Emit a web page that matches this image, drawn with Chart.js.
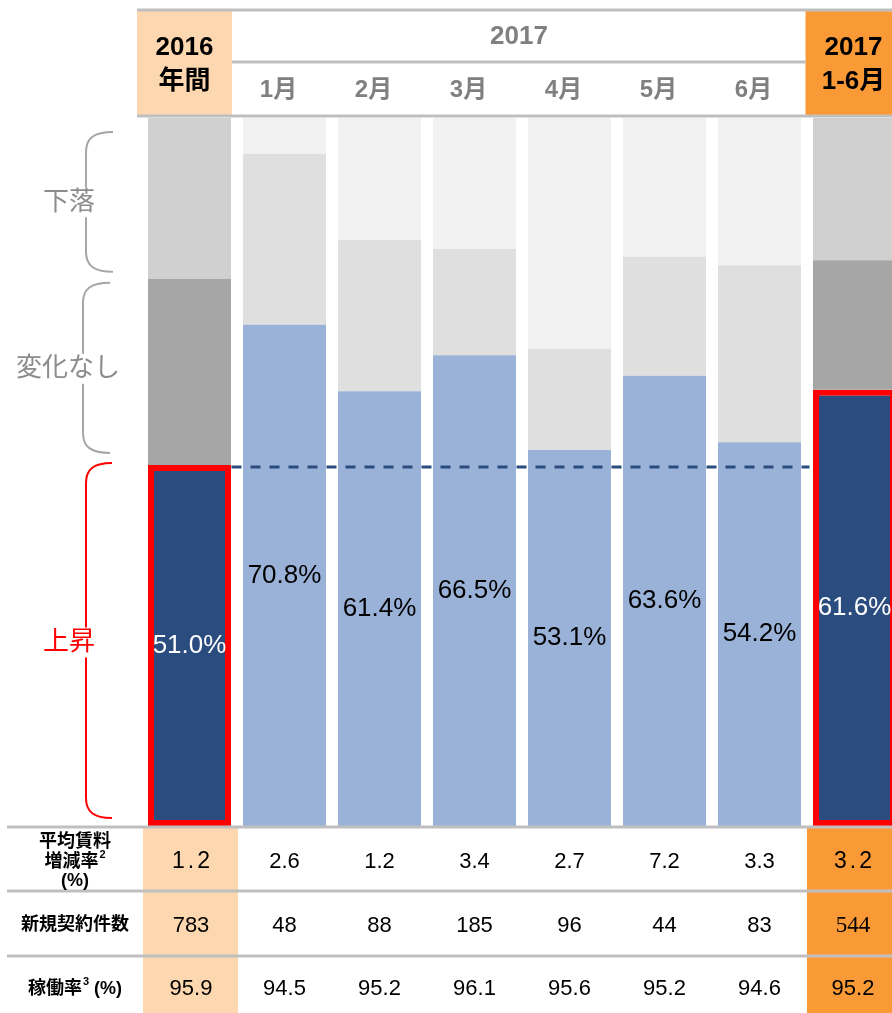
<!DOCTYPE html>
<html>
<head>
<meta charset="utf-8">
<script src="https://cdn.jsdelivr.net/npm/chart.js@4.4.0/dist/chart.umd.min.js"></script>
<style>
  html, body { margin: 0; padding: 0; background: #fff; overflow: hidden; }
  #wrap { width: 892px; height: 1013px; overflow: hidden; }
  canvas { display: block; }
</style>
</head>
<body>
<div id="wrap"><canvas id="chart" width="910" height="1013"></canvas></div>
<script>
const categories = ["2016年間", "1月", "2月", "3月", "4月", "5月", "6月", "2017 1-6月"];
const monthLabels = ["1月", "2月", "3月", "4月", "5月", "6月"];
const upShare = [51.0, 70.8, 61.4, 66.5, 53.1, 63.6, 54.2, 61.6];
const flatShare = [26.3, 24.1, 21.4, 15.0, 14.3, 16.8, 25.0, 18.3];
const downShare = [22.7, 5.1, 17.2, 18.5, 32.6, 19.6, 20.8, 20.1];
const rentChange = [1.2, 2.6, 1.2, 3.4, 2.7, 7.2, 3.3, 3.2];
const newContracts = [783, 48, 88, 185, 96, 44, 83, 544];
const occupancy = [95.9, 94.5, 95.2, 96.1, 95.6, 95.2, 94.6, 95.2];

const FONT = "'Liberation Sans', Arial, 'Noto Sans CJK JP', sans-serif";
const LINE_GRAY = "#BFBFBF";
const PEACH = "#FDD7AF";
const ORANGE = "#FA9A36";
const DARK_BLUE = "#2B4C7E";

const last = categories.length - 1;
const isSummary = (i) => i === 0 || i === last;
const pick = (a, b) => categories.map((_, i) => (isSummary(i) ? a : b));

function text(ctx, str, x, y, font, color, align) {
  ctx.font = font;
  ctx.fillStyle = color;
  ctx.textAlign = align || "center";
  ctx.textBaseline = "middle";
  ctx.fillText(str, x, y);
}

// label with a raised footnote number, centred as one piece
function withSup(ctx, main, sup, tail, x, y) {
  const f = "bold 18px " + FONT;
  const fs = "bold 11px " + FONT;
  ctx.font = f;
  const w1 = ctx.measureText(main).width;
  const w3 = ctx.measureText(tail).width;
  ctx.font = fs;
  const w2 = ctx.measureText(sup).width + 1;
  let left = x - (w1 + w2 + w3) / 2;
  text(ctx, main, left, y, f, "#000", "left");
  text(ctx, sup, left + w1 + 1, y - 7, fs, "#000", "left");
  if (tail) text(ctx, tail, left + w1 + w2, y, f, "#000", "left");
}

function hline(ctx, x1, x2, y) {
  ctx.strokeStyle = LINE_GRAY;
  ctx.lineWidth = 3;
  ctx.beginPath();
  ctx.moveTo(x1, y);
  ctx.lineTo(x2, y);
  ctx.stroke();
}

// bracket with rounded ends, label sitting on top of it
function bracket(ctx, top, bottom, xv, xe, color, label, labelY, labelX) {
  ctx.strokeStyle = color;
  ctx.lineWidth = 2;
  ctx.beginPath();
  ctx.moveTo(xe, top);
  ctx.bezierCurveTo(xv + 8, top, xv, top + 6, xv, top + 20);
  ctx.lineTo(xv, bottom - 20);
  ctx.bezierCurveTo(xv, bottom - 6, xv + 8, bottom, xe, bottom);
  ctx.stroke();
  ctx.font = "26px " + FONT;
  const w = ctx.measureText(label).width;
  ctx.fillStyle = "#fff";
  ctx.fillRect(labelX - w / 2 - 1, labelY - 15, w + 2, 30);
  text(ctx, label, labelX, labelY, "26px " + FONT, color === "#FF0000" ? "#FF0000" : "#8C8C8C");
}

const tablePlugin = {
  id: "tablePlugin",
  beforeDraw(chart) {
    const ctx = chart.ctx;
    const x = chart.scales.x;
    const c0 = x.getPixelForValue(0);
    const c7 = x.getPixelForValue(last);
    ctx.save();
    ctx.fillStyle = "#fff";
    ctx.fillRect(0, 0, chart.width, chart.height);
    // header cells
    ctx.fillStyle = PEACH;
    ctx.fillRect(c0 - 52.5, 11, 95, 104);
    ctx.fillStyle = ORANGE;
    ctx.fillRect(c7 - 49, 11, 100, 104);
    // table cells
    ctx.fillStyle = PEACH;
    ctx.fillRect(c0 - 46.5, 828, 95, 190);
    ctx.fillStyle = ORANGE;
    ctx.fillRect(c7 - 47.5, 828, 100, 190);
    ctx.restore();
  },
  afterDatasetsDraw(chart) {
    const ctx = chart.ctx;
    const x = chart.scales.x;
    const y = chart.scales.y;
    const cx = (i) => x.getPixelForValue(i);
    ctx.save();

    // share labels inside the 上昇 segments
    const meta = chart.getDatasetMeta(0);
    meta.data.forEach((bar, i) => {
      text(ctx, upShare[i].toFixed(1) + "%", bar.x, (bar.y + bar.base) / 2,
        "26px " + FONT, isSummary(i) ? "#fff" : "#000");
    });

    // dashed reference at 2016 level
    const yRef = y.getPixelForValue(upShare[0]) + 2;
    ctx.strokeStyle = DARK_BLUE;
    ctx.lineWidth = 3;
    ctx.setLineDash([10, 9]);
    ctx.beginPath();
    ctx.moveTo(cx(0) + 42, yRef);
    ctx.lineTo(cx(last) - 45, yRef);
    ctx.stroke();
    ctx.setLineDash([]);

    // header
    const c0 = cx(0), c7 = cx(last);
    hline(ctx, c0 - 52.5, chart.width, 10);
    hline(ctx, c0 + 42.5, c7 - 49, 62);
    hline(ctx, c0 - 52.5, chart.width, 116);
    text(ctx, "2016", c0 - 5, 48, "bold 26px " + FONT, "#000");
    text(ctx, "年間", c0 - 5, 82, "bold 26px " + FONT, "#000");
    text(ctx, "2017", (cx(1) + cx(6)) / 2 - 3, 37, "bold 26px " + FONT, "#808080");
    monthLabels.forEach((m, k) => {
      text(ctx, m, cx(k + 1) - 6, 90, "bold 24px " + FONT, "#808080");
    });
    text(ctx, "2017", c7 - 1, 48, "bold 26px " + FONT, "#000");
    text(ctx, "1-6月", c7 - 1, 82, "bold 26px " + FONT, "#000");

    // brackets on the left, sized from the 2016 column
    const yTop = y.getPixelForValue(100);
    const yFlat = y.getPixelForValue(upShare[0] + flatShare[0]);
    const yUp = y.getPixelForValue(upShare[0]);
    const yBase = y.getPixelForValue(0);
    bracket(ctx, yTop + 14, yFlat - 7, 86, 113, "#A6A6A6", "下落", (yTop + yFlat) / 2 + 4, 69);
    bracket(ctx, yFlat + 4, yUp - 12, 83, 110, "#A6A6A6", "変化なし", (yFlat + yUp) / 2 - 3, 68);
    bracket(ctx, yUp - 2, yBase - 8, 86, 112, "#FF0000", "上昇", (yUp + yBase) / 2 - 3, 69);

    // bottom table
    hline(ctx, 7, chart.width, 827);
    hline(ctx, 7, chart.width, 891);
    hline(ctx, 7, chart.width, 956);
    const lab = "bold 18px " + FONT;
    text(ctx, "平均賃料", 75, 842, lab, "#000");
    withSup(ctx, "増減率", "2", "", 75, 862);
    text(ctx, "(%)", 75, 881, lab, "#000");
    text(ctx, "新規契約件数", 75, 925, lab, "#000");
    withSup(ctx, "稼働率", "3", " (%)", 75, 989);

    const val = "22px " + FONT;
    categories.forEach((_, i) => {
      const px = i === 0 ? cx(i) + 1.5 : (i === last ? cx(i) - 1.5 : cx(i));
      if (isSummary(i)) {
        ctx.letterSpacing = "3px";
        text(ctx, rentChange[i].toFixed(1), px + 1.5, 862, "23px " + FONT, "#000");
        ctx.letterSpacing = "0px";
      } else {
        text(ctx, rentChange[i].toFixed(1), px, 862, val, "#000");
      }
      const nf = i === last ? "23px 'Liberation Serif', serif" : val;
      text(ctx, String(newContracts[i]), px, 926, nf, "#000");
      text(ctx, occupancy[i].toFixed(1), px, 989, val, "#000");
    });
    ctx.restore();
  },
};

new Chart(document.getElementById("chart"), {
  type: "bar",
  data: {
    labels: categories,
    datasets: [
      {
        label: "上昇",
        data: upShare,
        backgroundColor: pick(DARK_BLUE, "#9AB2D7"),
        borderColor: "#FF0000",
        borderWidth: categories.map((_, i) => (isSummary(i) ? 6 : 0)),
        borderSkipped: false,
        borderRadius: categories.map((_, i) => (isSummary(i) ? 3 : 0)),
      },
      {
        label: "変化なし",
        data: flatShare,
        backgroundColor: pick("#A6A6A6", "#DFDFDF"),
      },
      {
        label: "下落",
        data: downShare,
        backgroundColor: pick("#D0D0D0", "#F2F2F2"),
      },
    ],
  },
  options: {
    responsive: false,
    animation: false,
    devicePixelRatio: 1,
    layout: { padding: { left: 142, right: 8, top: 118, bottom: 187 } },
    datasets: { bar: { categoryPercentage: 1, barPercentage: 83 / 95 } },
    scales: {
      x: { stacked: true, display: false },
      y: { stacked: true, display: false, min: 0, max: 100 },
    },
    plugins: {
      legend: { display: false },
      tooltip: { enabled: false },
    },
  },
  plugins: [tablePlugin],
});
</script>
</body>
</html>
